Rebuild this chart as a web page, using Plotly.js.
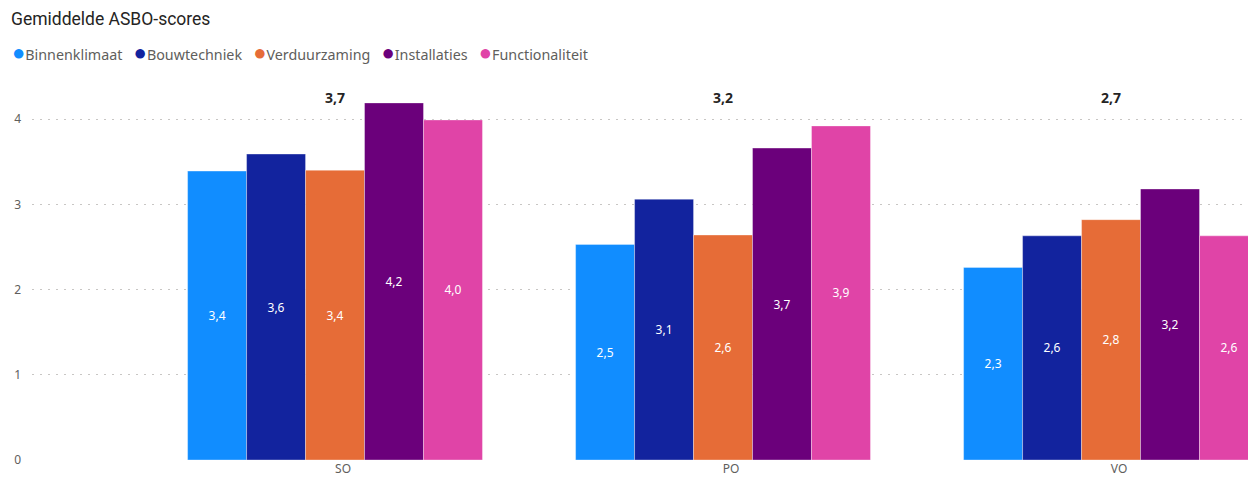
<!DOCTYPE html>
<html>
<head>
<meta charset="utf-8">
<script src="https://cdn.plot.ly/plotly-3.0.1.min.js"></script>
<style>
html,body{margin:0;padding:0;background:#fff;}
#chart{width:1248px;height:477px;}
</style>
</head>
<body>
<div id="chart"></div>
<script>
// ---- data ----
const categories = ["SO", "PO", "VO"];
const seriesNames = ["Binnenklimaat", "Bouwtechniek", "Verduurzaming", "Installaties", "Functionaliteit"];
const binnenklimaat   = [3.39, 2.53, 2.26];
const bouwtechniek    = [3.59, 3.06, 2.63];
const verduurzaming   = [3.40, 2.64, 2.82];
const installaties    = [4.19, 3.66, 3.18];
const functionaliteit = [3.99, 3.92, 2.63];
const seriesColors = ["#118DFF", "#12239E", "#E66C37", "#6B007B", "#E044A7"];

const seriesValues = [binnenklimaat, bouwtechniek, verduurzaming, installaties, functionaliteit];
const fontFam = '"Segoe UI", "Noto Sans", "Open Sans", sans-serif';

const traces = seriesValues.map((vals, i) => ({
  type: 'bar',
  name: seriesNames[i],
  x: categories,
  y: vals,
  marker: {color: seriesColors[i], line: {color: 'rgba(255,255,255,0.35)', width: 1}},
  texttemplate: '%{y:.1f}',
  textposition: 'inside',
  insidetextanchor: 'middle',
  textangle: 0,
  constraintext: 'none',
  textfont: {color: '#FFFFFF', size: 12, family: fontFam},
  showlegend: false,
  hoverinfo: 'x+y+name'
}));

// group averages shown above each group
const totals = categories.map((c, j) => {
  const s = seriesValues.reduce((a, v) => a + v[j], 0) / seriesValues.length;
  return s.toFixed(1).replace('.', ',');
});

const annotations = categories.map((c, j) => ({
  x: c, xref: 'x', y: 0.968, yref: 'paper',
  text: '<b>' + totals[j] + '</b>', showarrow: false,
  font: {size: 14, color: '#252423', family: fontFam},
  xanchor: 'center', yanchor: 'middle'
}));

// legend drawn as a single text row with coloured dots
const legendText = seriesNames.map((n, i) =>
  '<span style="color:' + seriesColors[i] + ';font-size:22px">●</span>' + n).join('\u00a0\u00a0\u00a0');
annotations.push({
  x: (10 - 32) / 1216, xref: 'paper', y: (460 - 51) / 375, yref: 'paper', yanchor: 'middle',
  xanchor: 'left', showarrow: false, align: 'left',
  text: legendText,
  font: {size: 14.3, color: '#605E5C', family: fontFam}
});

const layout = {
  width: 1248, height: 477,
  margin: {l: 32, r: 0, t: 85, b: 17, pad: 0},
  paper_bgcolor: '#fff', plot_bgcolor: '#fff',
  separators: ',.',
  barmode: 'group',
  bargap: 0.24,
  bargroupgap: 0,
  title: {
    text: 'Gemiddelde ASBO-scores',
    x: 11 / 1248, xanchor: 'left', xref: 'container',
    y: 1 - 19 / 477, yanchor: 'middle', yref: 'container',
    font: {family: 'Roboto, "Noto Sans", sans-serif', size: 17.5, weight: 400, color: '#252423'}
  },
  xaxis: {
    type: 'category',
    range: [-0.781, 2.353],
    showgrid: false, zeroline: false, showline: false,
    ticks: '',
    ticklabelshift: 8,
    tickfont: {size: 12, color: '#605E5C', family: fontFam},
    automargin: false
  },
  yaxis: {
    range: [0, 4.4],
    tickvals: [0, 1, 2, 3, 4],
    showgrid: true, gridcolor: '#C8C6C4', griddash: '2px,6px', gridwidth: 1,
    zeroline: false, showline: false, ticks: '',
    ticklabelstandoff: 10,
    tickfont: {size: 12, color: '#605E5C', family: fontFam},
    automargin: false
  },
  annotations: annotations,
  showlegend: false
};

Plotly.newPlot('chart', traces, layout, {displayModeBar: false, staticPlot: true});
</script>
</body>
</html>
